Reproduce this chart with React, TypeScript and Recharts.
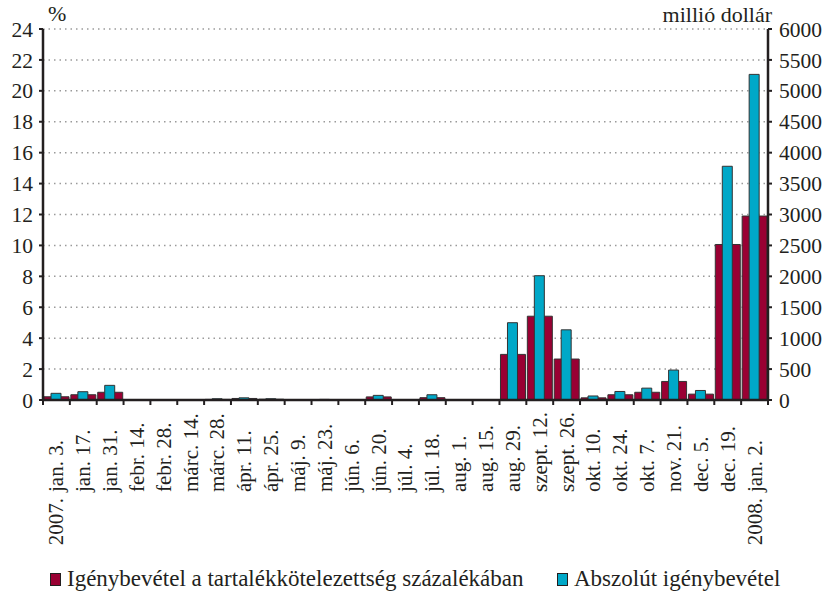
import React from 'react';
import { BarChart, Bar, XAxis, YAxis, CartesianGrid, Legend } from 'recharts';

const categories = ['2007. jan. 3.', 'jan. 17.', 'jan. 31.', 'febr. 14.', 'febr. 28.', 'márc. 14.', 'márc. 28.', 'ápr. 11.', 'ápr. 25.', 'máj. 9.', 'máj. 23.', 'jún. 6.', 'jún. 20.', 'júl. 4.', 'júl. 18.', 'aug. 1.', 'aug. 15.', 'aug. 29.', 'szept. 12.', 'szept. 26.', 'okt. 10.', 'okt. 24.', 'okt. 7.', 'nov. 21.', 'dec. 5.', 'dec. 19.', '2008. jan. 2.'];
const percentValues = [0.21, 0.34, 0.5, 0, 0, 0, 0.04, 0.1, 0.05, 0, 0.02, 0, 0.2, 0, 0.15, 0, 0, 2.95, 5.42, 2.65, 0.14, 0.34, 0.5, 1.2, 0.38, 10.06, 11.9];
const dollarValues = [108, 134, 237, 0, 0, 0, 20, 35, 20, 0, 10, 0, 75, 0, 85, 0, 0, 1250, 2010, 1135, 65, 138, 192, 484, 154, 3780, 5266];
const leftTicks = [0, 2, 4, 6, 8, 10, 12, 14, 16, 18, 20, 22, 24];
const rightTicks = [0, 500, 1000, 1500, 2000, 2500, 3000, 3500, 4000, 4500, 5000, 5500, 6000];
const seriesNames = ['Igénybevétel a tartalékkötelezettség százalékában', 'Abszolút igénybevétel'];

const data = categories.map((c, i) => ({ cat: c, pct: percentValues[i], usd: dollarValues[i] }));

const W = 829;
const H = 593;
const LEFT_W = 43;
const RIGHT_W = 61;
const FONT = '"Liberation Serif", "Times New Roman", serif';
const RED = '#990033';
const BLUE = '#00A8C8';
const INK = '#231f20';
const STEP = (W - LEFT_W - RIGHT_W) / categories.length;

const XTick = (props: any) => {
  const { x, y, payload, index } = props;
  const label: string = payload.value;
  const m = label.match(/^(\d{4}\.)\s(.*)$/);
  const main = m ? m[2] : label;
  const year = m ? m[1] : null;
  const base = 92;
  return (
    <g>
      <line x1={x - STEP / 2} y1={y} x2={x - STEP / 2} y2={y + 5} stroke={INK} strokeWidth={2} />
      {index === categories.length - 1 && (
        <line x1={x + STEP / 2} y1={y} x2={x + STEP / 2} y2={y + 5} stroke={INK} strokeWidth={2} />
      )}
      <g transform={`translate(${x},${y + base}) rotate(-90)`}>
        <text x={0} y={0} dy="0.33em" textAnchor="start" fontSize={21} fontFamily={FONT} fill={INK}>
          {main}
        </text>
        {year && (
          <text x={-6} y={0} dy="0.33em" textAnchor="end" fontSize={21} fontFamily={FONT} fill={INK}>
            {year}
          </text>
        )}
      </g>
    </g>
  );
};

const UnitLabel = (props: any) => {
  const { viewBox, text, side } = props;
  if (!viewBox) return null;
  if (side === 'left') {
    return (
      <text x={viewBox.x + viewBox.width + 5} y={viewBox.y - 8} fontSize={22} fontFamily={FONT} fill={INK}>
        {text}
      </text>
    );
  }
  return (
    <text x={viewBox.x + 4} y={viewBox.y - 7} textAnchor="end" fontSize={22} fontFamily={FONT} fill={INK}>
      {text}
    </text>
  );
};

const LegendContent = () => (
  <div style={{ position: 'relative', width: W, height: 30, fontFamily: FONT, fontSize: 23, color: INK }}>
    <div style={{ position: 'absolute', left: 50, top: 3, display: 'flex', alignItems: 'center', whiteSpace: 'nowrap' }}>
      <span style={{ display: 'inline-block', width: 9, height: 11, background: RED, border: `1px solid ${INK}`, marginRight: 6 }} />
      <span>{seriesNames[0]}</span>
    </div>
    <div style={{ position: 'absolute', left: 557, top: 3, display: 'flex', alignItems: 'center', whiteSpace: 'nowrap' }}>
      <span style={{ display: 'inline-block', width: 9, height: 11, background: BLUE, border: `1px solid ${INK}`, marginRight: 6 }} />
      <span>{seriesNames[1]}</span>
    </div>
  </div>
);

export default function App() {
  return (
    <div style={{ position: 'absolute', left: 0, top: 0, width: W, height: H, background: '#fff' }}>
      <BarChart width={W} height={H} data={data} margin={{ top: 29, right: 0, bottom: 0, left: 0 }} barCategoryGap={0}>
        <CartesianGrid
          xAxisId="a"
          yAxisId="left"
          vertical={false}
          stroke="#9a9a9a"
          strokeWidth={1.5}
          strokeDasharray="1.5 4"
        />
        <XAxis
          xAxisId="a"
          dataKey="cat"
          interval={0}
          height={163}
          tickLine={false}
          tickSize={0}
          tickMargin={0}
          axisLine={{ stroke: INK, strokeWidth: 2.5 }}
          tick={<XTick />}
        />
        <XAxis xAxisId="b" dataKey="cat" hide />
        <YAxis
          yAxisId="left"
          orientation="left"
          width={LEFT_W}
          domain={[0, 24]}
          ticks={leftTicks}
          interval={0}
          tickSize={4}
          tickMargin={6}
          axisLine={{ stroke: INK, strokeWidth: 2.5 }}
          tickLine={{ stroke: INK, strokeWidth: 2 }}
          tick={{ fontSize: 21.5, fontFamily: FONT, fill: INK }}
          label={<UnitLabel text="%" side="left" />}
        />
        <YAxis
          yAxisId="right"
          orientation="right"
          width={RIGHT_W}
          domain={[0, 6000]}
          ticks={rightTicks}
          interval={0}
          tickSize={4}
          tickMargin={7}
          axisLine={{ stroke: INK, strokeWidth: 2.5 }}
          tickLine={{ stroke: INK, strokeWidth: 2 }}
          tick={{ fontSize: 21.5, fontFamily: FONT, fill: INK }}
          label={<UnitLabel text="millió dollár" side="right" />}
        />
        <Legend verticalAlign="bottom" align="left" height={30} content={<LegendContent />} wrapperStyle={{ left: 0, width: W }} />
        <Bar xAxisId="a" yAxisId="left" dataKey="pct" name={seriesNames[0]} fill={RED} stroke="#333" strokeWidth={1} barSize={25} isAnimationActive={false} />
        <Bar xAxisId="b" yAxisId="right" dataKey="usd" name={seriesNames[1]} fill={BLUE} stroke="#333" strokeWidth={1} barSize={10} isAnimationActive={false} />
      </BarChart>
    </div>
  );
}
